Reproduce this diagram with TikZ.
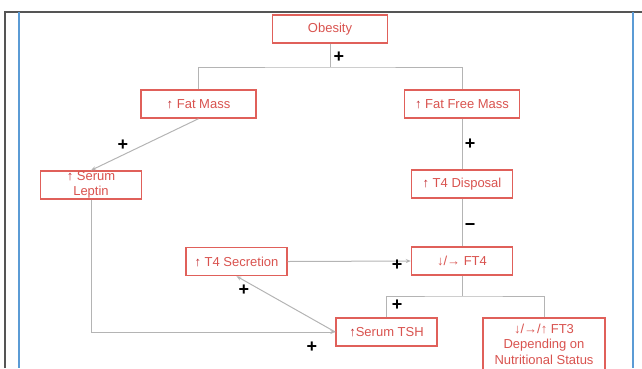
\documentclass[tikz,border=0pt]{standalone}
\usepackage{fontspec}
\setmainfont{Liberation Sans}
\usetikzlibrary{arrows.meta, positioning}
\definecolor{boxred}{HTML}{E0605A}
\definecolor{textred}{HTML}{D9534F}
\definecolor{arrred}{HTML}{C0282D}
\definecolor{linegray}{HTML}{B4B4B4}
\definecolor{framegray}{HTML}{555555}
\definecolor{frameblue}{HTML}{5B9BD5}
\tikzset{
  box/.style={draw=boxred, line width=1.4pt, fill=white, text=textred,
    minimum height=28pt, inner sep=0pt, align=center,
    font=\fontsize{13}{14}\selectfont},
  conn/.style={draw=linegray, line width=1pt},
  sign/.style={font=\fontsize{18}{18}\selectfont\bfseries, inner sep=0pt}
}
\newcommand{\uparr}{{\color{arrred}\bfseries ↑}}

\begin{document}
\begin{tikzpicture}[x=1pt, y=-1pt, >={Stealth[length=5pt,width=4pt]}]
  \useasboundingbox (0,0) rectangle (642,368);
  % frame
  \draw[framegray, line width=1.5pt] (5,368) -- (5,12) -- (642,12);
  \draw[frameblue, line width=1.2pt] (19,12) -- (19,368);
  \draw[frameblue, line width=1.2pt] (633,12) -- (633,368);
  %
  \node[box, minimum width=115pt] (obesity) at (330,29) {Obesity};
  \node[box, minimum width=115pt] (fatmass) at (198.5,104) {\uparr\ Fat Mass};
  \node[box, minimum width=115pt] (ffm) at (462,104) {\uparr\ Fat Free Mass};
  \node[box, minimum width=101pt, font=\fontsize{13}{15.5}\selectfont]
    (leptin) at (91,185) {\uparr\ Serum\\Leptin};
  \node[box, minimum width=101pt] (t4disp) at (462,184) {\uparr\ T4 Disposal};
  \node[box, minimum width=101pt] (t4sec) at (236.5,261.5) {\uparr\ T4 Secretion};
  \node[box, minimum width=101pt] (ft4) at (462,261) {↓/→ FT4};
  \node[box, minimum width=101pt] (tsh) at (386.5,332) {\uparr Serum TSH};
  \node[box, minimum width=122pt, minimum height=52pt,
    font=\fontsize{13}{15.5}\selectfont] (ft3) at (544,344)
    {↓/→/↑ FT3\\Depending on\\Nutritional Status};
  %
  \coordinate (split1) at (330,67);
  \coordinate (split2) at (462,296);
  \draw[conn] (obesity.south) -- (split1);
  \draw[conn] (fatmass.north) |- (split1) -| (ffm.north);
  \draw[conn, ->] (fatmass.south) -- (leptin.north);
  \draw[conn] (ffm.south) -- (t4disp.north);
  \draw[conn] (t4disp.south) -- (ft4.north);
  \draw[conn, ->] (t4sec.east) -- (ft4.west);
  \draw[conn, ->] (leptin.south) |- (tsh.west);
  \draw[conn, ->] (tsh.west) -- (t4sec.south);
  \draw[conn] (ft4.south) -- (split2);
  \draw[conn] (tsh.north) |- (split2) -| (ft3.north);
  %
  \node[sign] (plus1) at (339,57) {+};
  \node[sign] (plus2) at (123,145) {+};
  \node[sign] (plus3) at (470,144) {+};
  \node[sign] (minus1) at (470,227) {−};
  \node[sign] (plus4) at (397,265) {+};
  \node[sign] (plus5) at (244,290) {+};
  \node[sign] (plus6) at (312,347) {+};
  \node[sign] (plus7) at (397,305) {+};
\end{tikzpicture}
\end{document}
